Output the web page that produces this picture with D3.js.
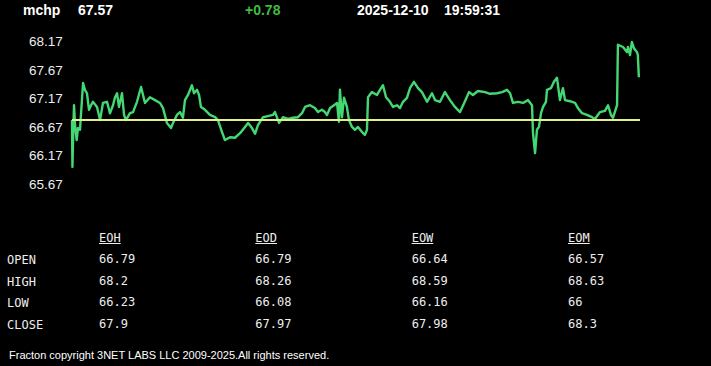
<!DOCTYPE html>
<html>
<head>
<meta charset="utf-8">
<script src="https://cdn.jsdelivr.net/npm/d3@7"></script>
<style>
  body { margin: 0; background: #000; }
  svg { display: block; }
</style>
</head>
<body>
<div id="vis"></div>
<script>
// page size
var width = 711;
var height = 366;

// header values
var symbol = "mchp";
var lastPrice = "67.57";
var change = "+0.78";
var quoteDate = "2025-12-10";
var quoteTime = "19:59:31";

// y tick labels
var yTicks = [68.17, 67.67, 67.17, 66.67, 66.17, 65.67];

// intraday trace, minutes since open and price
var mins = [0, 0.3, 0.9, 1.4, 2.1, 3.2, 4.1, 5.5, 7.6, 8.9, 10.3, 11.7, 13.1, 14.4, 17.2, 19.3,
  21.3, 24.1, 26.1, 28.2, 29.6, 31.0, 32.3, 34.4, 35.8, 37.1, 39.9, 42.0, 44.7, 47.5, 50.2,
  53.6, 57.1, 60.5, 62.6, 65.3, 68.1, 69.5, 72.2, 74.3, 76.3, 77.7, 79.8, 82.5, 83.9, 86.0,
  87.4, 88.7, 91.5, 94.9, 98.4, 100.4, 103.2, 105.2, 108.7, 112.1, 115.6, 119.0, 121.1,
  123.8, 125.9, 127.9, 131.4, 134.8, 138.2, 139.6, 142.4, 145.1, 148.6, 152.0, 155.4,
  158.2, 160.3, 163.7, 167.1, 169.2, 171.9, 174.0, 175.4, 177.5, 180.2, 182.3, 183.6,
  184.3, 185.7, 187.1, 189.1, 190.5, 192.6, 194.6, 196.7, 199.5, 201.5, 202.9, 203.6,
  206.3, 209.8, 211.8, 213.9, 216.0, 218.7, 220.8, 223.5, 225.6, 227.7, 230.4, 232.5,
  235.2, 238.0, 240.7, 244.2, 247.6, 249.7, 253.1, 256.5, 260.0, 263.4, 266.9, 270.3,
  273.1, 275.8, 279.2, 284.1, 287.5, 292.3, 295.8, 299.2, 301.3, 303.3, 306.8, 310.2,
  313.6, 316.4, 317.1, 318.5, 319.8, 321.2, 322.6, 324.0, 326.0, 326.7, 329.5, 331.5,
  333.6, 335.6, 337.7, 339.1, 342.5, 346.0, 348.0, 350.8, 354.2, 357.7, 359.7, 363.2,
  366.6, 368.7, 370.7, 372.1, 374.9, 375.5, 379.0, 381.7, 382.4, 383.8, 385.1, 386.5,
  388.6, 389.2, 389.9];
var prices = [66.79, 65.97, 66.62, 67.05, 66.70, 66.44, 66.65, 66.62, 67.44, 67.32, 67.26,
  66.97, 67.05, 67.11, 67.02, 66.79, 67.09, 67.11, 66.91, 67.05, 67.19, 67.26, 67.02, 67.26,
  66.88, 66.79, 66.91, 66.93, 67.11, 67.37, 67.09, 67.19, 67.14, 67.09, 67.00, 66.74, 66.65,
  66.74, 66.88, 66.93, 66.83, 67.14, 67.23, 67.40, 67.26, 67.32, 67.23, 67.02, 66.97, 66.88,
  66.84, 66.79, 66.58, 66.44, 66.49, 66.48, 66.56, 66.67, 66.74, 66.65, 66.55, 66.70, 66.84,
  66.86, 66.88, 66.93, 66.74, 66.84, 66.81, 66.83, 66.84, 66.91, 67.02, 67.05, 67.00, 66.93,
  66.97, 66.93, 66.88, 67.00, 67.05, 67.09, 66.76, 67.32, 66.84, 67.18, 67.02, 66.79, 66.67,
  66.62, 66.67, 66.58, 66.53, 66.62, 67.19, 67.28, 67.23, 67.32, 67.40, 67.19, 67.11, 67.02,
  67.05, 67.00, 67.11, 67.18, 67.35, 67.46, 67.35, 67.28, 67.11, 67.26, 67.14, 67.11, 67.28,
  67.14, 67.02, 66.93, 67.12, 67.28, 67.23, 67.30, 67.28, 67.25, 67.26, 67.28, 67.32, 67.26,
  67.09, 67.11, 67.09, 67.14, 67.05, 66.56, 66.21, 66.62, 66.67, 66.91, 67.02, 67.11, 67.32,
  67.35, 67.46, 67.53, 67.14, 67.35, 67.14, 67.12, 67.09, 67.00, 66.91, 66.88, 66.84, 66.81,
  66.93, 66.95, 67.05, 66.88, 66.83, 67.05, 68.11, 68.07, 67.98, 68.07, 67.93, 68.16, 68.05,
  67.98, 67.93, 67.54];
var openPrice = 66.79;

// stats table
var statRows = ["OPEN", "HIGH", "LOW", "CLOSE"];
var statCols = ["EOH", "EOD", "EOW", "EOM"];
var eohVals = ["66.79", "68.2", "66.23", "67.9"];
var eodVals = ["66.79", "68.26", "66.08", "67.97"];
var eowVals = ["66.64", "68.59", "66.16", "67.98"];
var eomVals = ["66.57", "68.63", "66", "68.3"];
var statVals = [eohVals, eodVals, eowVals, eomVals];

var footer = "Fracton copyright 3NET LABS LLC 2009-2025.All rights reserved.";

var svg = d3.select("#vis").append("svg")
  .attr("width", width)
  .attr("height", height)
  .style("background", "#000");

// header line
var headFont = "Arial, 'Liberation Sans', sans-serif";
var header = [
  {t: symbol, x: 23, c: "#fff"},
  {t: lastPrice, x: 78, c: "#fff"},
  {t: change, x: 245, c: "#3fbb3f"},
  {t: quoteDate, x: 357, c: "#fff"},
  {t: quoteTime, x: 444, c: "#fff"}
];
svg.selectAll(".head").data(header).enter().append("text")
  .attr("class", "head")
  .attr("x", d => d.x)
  .attr("y", 14.5)
  .attr("fill", d => d.c)
  .style("font-family", headFont)
  .style("font-weight", "bold")
  .style("font-size", "14px")
  .text(d => d.t);

// scales
var x = d3.scaleLinear().domain([0, 390]).range([72, 639]);
var y = d3.scaleLinear().domain([65.67, 68.17]).range([184, 41.3]);

// y labels
svg.selectAll(".ylab").data(yTicks).enter().append("text")
  .attr("class", "ylab")
  .attr("x", 29)
  .attr("y", d => y(d))
  .attr("dy", "0.35em")
  .attr("fill", "#eee")
  .style("font-family", headFont)
  .style("font-size", "13.5px")
  .text(d => d.toFixed(2));

// price line
var pts = mins.map((m, i) => ({m: m, p: prices[i]}));
var line = d3.line().x(d => x(d.m)).y(d => y(d.p));

svg.append("path")
  .datum(pts)
  .attr("d", line)
  .attr("fill", "none")
  .attr("stroke", "#44d873")
  .attr("stroke-width", 2.4)
  .attr("stroke-linejoin", "round");

// open reference line
svg.append("line")
  .attr("x1", x(0))
  .attr("x2", x(390) + 1)
  .attr("y1", y(openPrice))
  .attr("y2", y(openPrice))
  .attr("stroke", "#e2f08c")
  .attr("stroke-width", 2);

// table
var mono = "'DejaVu Sans Mono', 'Liberation Mono', monospace";
var colX = d3.scalePoint().domain(statCols).range([99, 568]);
var rowY = d3.scalePoint().domain(statRows).range([264, 329]);

var colHeads = svg.selectAll(".colh").data(statCols).enter().append("text")
  .attr("class", "colh")
  .attr("x", d => colX(d))
  .attr("y", 241.5)
  .attr("fill", "#eee")
  .style("font-family", mono)
  .style("font-size", "12px")
  .text(d => d);

colHeads.each(function(d) {
  var w = this.getComputedTextLength();
  svg.append("line")
    .attr("x1", colX(d)).attr("x2", colX(d) + w)
    .attr("y1", 243.5).attr("y2", 243.5)
    .attr("stroke", "#eee").attr("stroke-width", 1);
});

svg.selectAll(".rowh").data(statRows).enter().append("text")
  .attr("class", "rowh")
  .attr("x", 7)
  .attr("y", d => rowY(d))
  .attr("fill", "#eee")
  .style("font-family", mono)
  .style("font-size", "12px")
  .text(d => d);

statCols.forEach(function(c, ci) {
  svg.selectAll(".v" + c).data(statVals[ci]).enter().append("text")
    .attr("x", colX(c))
    .attr("y", (d, i) => rowY(statRows[i]) - 1)
    .attr("fill", "#eee")
    .style("font-family", mono)
    .style("font-size", "12px")
    .text(d => d);
});

// footer
svg.append("text")
  .attr("x", 9)
  .attr("y", 358.5)
  .attr("fill", "#fff")
  .style("font-family", headFont)
  .style("font-size", "11px")
  .text(footer);
</script>
</body>
</html>
